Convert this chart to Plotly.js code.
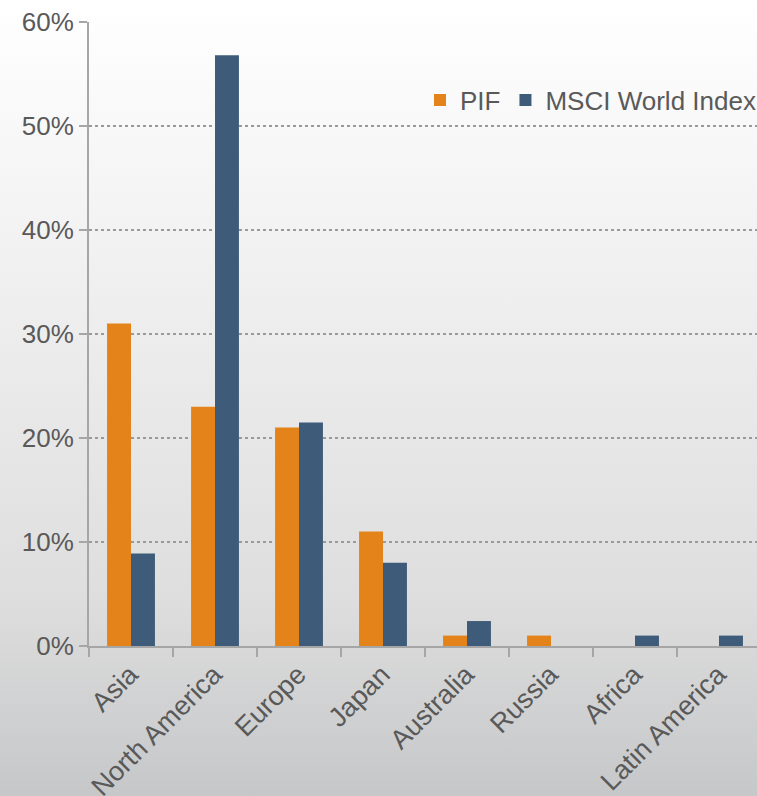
<!DOCTYPE html>
<html>
<head>
<meta charset="utf-8">
<script src="https://cdn.plot.ly/plotly-3.0.1.min.js"></script>
<style>
  html, body { margin: 0; padding: 0; overflow: hidden; }
  body { width: 757px; height: 796px; background: linear-gradient(to bottom, #ffffff 0%, #f2f2f2 30%, #dedede 75%, #c6c7c9 100%); }
  #chart { width: 761px; height: 796px; }
</style>
</head>
<body>
<div id="chart"></div>
<script>
const categories = ["Asia", "North America", "Europe", "Japan", "Australia", "Russia", "Africa", "Latin America"];
const pifValues = [31, 23, 21, 11, 1, 1, 0, 0];
const msciValues = [8.9, 56.8, 21.5, 8, 2.4, 0, 1, 1];
const seriesNames = ["PIF", "MSCI World Index"];
const yTicks = [0, 10, 20, 30, 40, 50, 60];

const font = "'Liberation Sans', Arial, sans-serif";

const traces = [
  { type: "bar", name: seriesNames[0], x: categories, y: pifValues,
    marker: { color: "#E3831A", line: { width: 0 } } },
  { type: "bar", name: seriesNames[1], x: categories, y: msciValues,
    marker: { color: "#3E5B7A", line: { width: 0 } } }
];

const layout = {
  width: 761, height: 796,
  margin: { l: 89, r: 0, t: 22, b: 150 },
  paper_bgcolor: "rgba(0,0,0,0)",
  plot_bgcolor: "rgba(0,0,0,0)",
  font: { family: font, size: 26, color: "#595959" },
  barmode: "group",
  bargap: 0.43,
  bargroupgap: 0,
  showlegend: true,
  legend: {
    orientation: "h", x: 1, xanchor: "right", y: 0.875, yanchor: "middle",
    bgcolor: "rgba(0,0,0,0)", font: { family: font, size: 26, color: "#595959" },
    itemwidth: 30, tracegroupgap: 0
  },
  xaxis: {
    type: "category", automargin: false,
    tickangle: -45, tickson: "boundaries",
    ticks: "outside", ticklen: 9, tickcolor: "#a6a6a6", tickwidth: 2,
    ticklabelshift: -1,
    showline: true, linecolor: "#a6a6a6", linewidth: 2,
    showgrid: false, zeroline: false,
    tickfont: { family: font, size: 27, color: "#595959" }
  },
  yaxis: {
    range: [0, 60], tickvals: yTicks, ticktext: yTicks.map(v => v + "%"),
    automargin: false,
    ticks: "outside", ticklen: 8, tickcolor: "#a6a6a6", tickwidth: 2,
    showline: true, linecolor: "#a6a6a6", linewidth: 2,
    showgrid: true, gridcolor: "#9a9a9a", gridwidth: 1.5, griddash: "dot",
    zeroline: false,
    tickfont: { family: font, size: 26, color: "#595959" }
  }
};

Plotly.newPlot("chart", traces, layout, { displayModeBar: false, staticPlot: true });
</script>
</body>
</html>
